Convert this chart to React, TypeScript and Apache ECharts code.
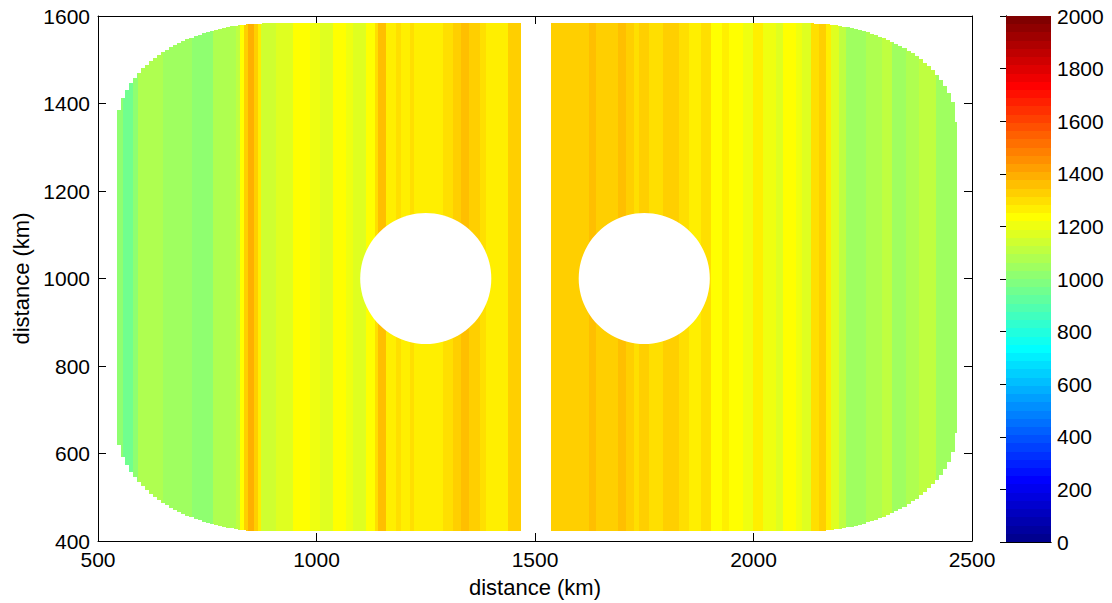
import React, { useEffect, useRef } from "react";
import * as echarts from "echarts";

// Axis ticks
const xTickValues = [500, 1000, 1500, 2000, 2500];
const yTickValues = [400, 600, 800, 1000, 1200, 1400, 1600];
const colorTickValues = [0, 200, 400, 600, 800, 1000, 1200, 1400, 1600, 1800, 2000];

// Left block: stripe start positions (km) and values, ends at leftBlockEnd
const leftStripeStarts = [
  543, 557, 580, 591, 649, 714, 763, 816, 824, 835,
  843, 858, 866, 874, 908, 946, 984, 1007, 1037, 1068,
  1083, 1114, 1133, 1140, 1160, 1182, 1194, 1213, 1224, 1289,
  1312, 1331, 1350, 1373, 1388, 1438,
];
const leftStripeValues = [
  1016, 953, 1016, 1078, 1047, 1016, 1078, 1109, 1234, 1328,
  1391, 1328, 1266, 1141, 1172, 1234, 1203, 1172, 1234, 1203,
  1172, 1234, 1297, 1359, 1266, 1297, 1266, 1297, 1266, 1297,
  1328, 1359, 1328, 1297, 1266, 1328,
];
const leftBlockEnd = 1467;

// Right block: stripe start positions (km) and values, ends at rightBlockEnd
const rightStripeStarts = [
  1537, 1624, 1640, 1689, 1708, 1727, 1739, 1762, 1792, 1830,
  1853, 1880, 1903, 1929, 1945, 1975, 1998, 2021, 2051, 2067,
  2097, 2112, 2131, 2150, 2166, 2177, 2196, 2211, 2257, 2295,
  2318, 2349, 2379, 2417,
];
const rightStripeValues = [
  1328, 1359, 1328, 1359, 1328, 1297, 1328, 1297, 1328, 1297,
  1266, 1297, 1234, 1266, 1234, 1203, 1266, 1203, 1172, 1234,
  1203, 1172, 1297, 1328, 1266, 1172, 1109, 1047, 1078, 1109,
  1047, 1078, 1109, 1047,
];
const rightBlockEnd = 2466;

// Circular holes: [centre x, centre y, radius] in km
const holes = [
  [1250, 1000, 150],
  [1750, 1000, 150],
];

// Domain outline (km)
const domainBottom = 422;
const domainTop = 1583;
const cornerRadiusX = 345;
const cornerRadiusY = 236;
const meshStep = 9.24;

const colorMin = 0;
const colorMax = 2000;
const colorLevels = Array.from({ length: 64 }, (_, i) => i);

// MATLAB-style jet colormap with 64 rows
function jetRow(i: number): [number, number, number] {
  const n = 16;
  const u = (k: number) => {
    if (k < 1 || k > 47) return 0;
    if (k <= n) return k / n;
    if (k <= 31) return 1;
    return (48 - k) / n;
  };
  const row = i + 1;
  const g = u(row - 8);
  const r = u(row - 24);
  const b = u(row + 8);
  return [r, g, b];
}
const jet = colorLevels.map((i) => {
  const [r, g, b] = jetRow(i);
  return `rgb(${Math.round(r * 255)},${Math.round(g * 255)},${Math.round(b * 255)})`;
});
function valueColor(v: number) {
  let k = Math.floor(((v - colorMin) / (colorMax - colorMin)) * 64);
  k = Math.max(0, Math.min(63, k));
  return jet[k];
}

function buildStripes(starts: number[], values: number[], end: number) {
  return starts.map((s, i) => [s, i + 1 < starts.length ? starts[i + 1] : end, values[i]]);
}
const leftStripes = buildStripes(leftStripeStarts, leftStripeValues, leftBlockEnd);
const rightStripes = buildStripes(rightStripeStarts, rightStripeValues, rightBlockEnd);

// vertical extent of a block column, with elliptical corners on one side
function columnExtent(xc: number, bx0: number, bx1: number, roundLeft: boolean) {
  const d = roundLeft ? xc - bx0 : bx1 - xc;
  if (d >= cornerRadiusX) return [domainBottom, domainTop];
  const t = (cornerRadiusX - d) / cornerRadiusX;
  const h = cornerRadiusY * Math.sqrt(Math.max(0, 1 - t * t));
  return [domainBottom + cornerRadiusY - h, domainTop - cornerRadiusY + h];
}

function makeStripeRenderer(bx0: number, bx1: number, roundLeft: boolean) {
  return (params: any, api: any) => {
    const x0 = api.value(0);
    const x1 = api.value(1);
    const fill = valueColor(api.value(2));
    const children: any[] = [];
    const nStart = Math.floor((x0 - bx0) / meshStep);
    for (let n = nStart; bx0 + n * meshStep < x1; n++) {
      const a = Math.max(x0, bx0 + n * meshStep);
      const b = Math.min(x1, bx0 + (n + 1) * meshStep, bx1);
      if (b <= a) continue;
      const xc = Math.min(bx1, bx0 + (n + 0.5) * meshStep);
      const [lo, hi] = columnExtent(xc, bx0, bx1, roundLeft);
      const p0 = api.coord([a, hi]);
      const p1 = api.coord([b, lo]);
      const px0 = Math.round(p0[0]);
      const px1 = Math.round(p1[0]);
      const py0 = Math.round(p0[1]);
      const py1 = Math.round(p1[1]);
      if (px1 <= px0) continue;
      children.push({
        type: "rect",
        shape: { x: px0, y: py0, width: px1 - px0, height: py1 - py0 },
        style: { fill },
      });
    }
    return { type: "group", children };
  };
}

const FONT = "'Liberation Sans', Arial, Helvetica, sans-serif";
const BLACK = "#000";
const plain = (v: number) => String(v);

export default function App() {
  const ref = useRef<HTMLDivElement>(null);

  useEffect(() => {
    if (!ref.current) return;
    const chart = echarts.init(ref.current, null, { renderer: "svg" });

    const lineStyle = { color: BLACK, width: 1 };
    const label = { fontSize: 21, color: BLACK, fontFamily: FONT };
    const nameStyle = { fontSize: 22, color: BLACK, fontFamily: FONT };

    chart.setOption({
      animation: false,
      backgroundColor: "#fff",
      textStyle: { fontFamily: FONT },
      grid: [
        { left: 98, top: 16, width: 874, height: 526 },
        { left: 1006, top: 16, width: 45, height: 526 },
      ],
      xAxis: [
        {
          gridIndex: 0, type: "value", position: "bottom",
          min: xTickValues[0], max: xTickValues[xTickValues.length - 1], interval: 500,
          axisLine: { show: true, lineStyle },
          axisTick: { show: true, inside: true, length: 8, lineStyle },
          axisLabel: { ...label, margin: 8, formatter: plain },
          splitLine: { show: false },
          name: "distance (km)", nameLocation: "middle", nameGap: 35,
          nameTextStyle: { ...nameStyle },
        },
        {
          gridIndex: 0, type: "value", position: "top",
          min: xTickValues[0], max: xTickValues[xTickValues.length - 1], interval: 500,
          axisLine: { show: true, lineStyle },
          axisTick: { show: true, inside: true, length: 8, lineStyle },
          axisLabel: { show: false },
          splitLine: { show: false },
        },
        {
          gridIndex: 1, type: "value", position: "bottom", min: 0, max: 1,
          axisLine: { show: true, lineStyle },
          axisTick: { show: false }, axisLabel: { show: false }, splitLine: { show: false },
        },
        {
          gridIndex: 1, type: "value", position: "top", min: 0, max: 1,
          axisLine: { show: true, lineStyle },
          axisTick: { show: false }, axisLabel: { show: false }, splitLine: { show: false },
        },
      ],
      yAxis: [
        {
          gridIndex: 0, type: "value", position: "left",
          min: yTickValues[0], max: yTickValues[yTickValues.length - 1], interval: 200,
          axisLine: { show: true, lineStyle },
          axisTick: { show: true, inside: true, length: 8, lineStyle },
          axisLabel: { ...label, margin: 8, formatter: plain },
          splitLine: { show: false },
          name: "distance (km)", nameLocation: "middle", nameGap: 64, nameRotate: 90,
          nameTextStyle: { ...nameStyle },
        },
        {
          gridIndex: 0, type: "value", position: "right",
          min: yTickValues[0], max: yTickValues[yTickValues.length - 1], interval: 200,
          axisLine: { show: true, lineStyle },
          axisTick: { show: true, inside: true, length: 8, lineStyle },
          axisLabel: { show: false },
          splitLine: { show: false },
        },
        {
          gridIndex: 1, type: "value", position: "right",
          min: colorTickValues[0], max: colorTickValues[colorTickValues.length - 1], interval: 200,
          axisLine: { show: true, lineStyle },
          axisTick: { show: true, inside: true, length: 6, lineStyle },
          axisLabel: { ...label, margin: 6, formatter: plain },
          splitLine: { show: false },
        },
        {
          gridIndex: 1, type: "value", position: "left",
          min: colorTickValues[0], max: colorTickValues[colorTickValues.length - 1], interval: 200,
          axisLine: { show: true, lineStyle },
          axisTick: { show: true, inside: true, length: 6, lineStyle },
          axisLabel: { show: false },
          splitLine: { show: false },
        },
      ],
      series: [
        {
          type: "custom", name: "left block", xAxisIndex: 0, yAxisIndex: 0,
          clip: true, silent: true,
          renderItem: makeStripeRenderer(leftStripeStarts[0], leftBlockEnd, true),
          data: leftStripes,
          z: 1,
        },
        {
          type: "custom", name: "right block", xAxisIndex: 0, yAxisIndex: 0,
          clip: true, silent: true,
          renderItem: makeStripeRenderer(rightStripeStarts[0], rightBlockEnd, false),
          data: rightStripes,
          z: 1,
        },
        {
          type: "custom", name: "holes", xAxisIndex: 0, yAxisIndex: 0,
          clip: true, silent: true,
          renderItem: (params: any, api: any) => {
            const c = api.coord([api.value(0), api.value(1)]);
            const r = api.size([api.value(2), 0])[0];
            return { type: "circle", shape: { cx: c[0], cy: c[1], r }, style: { fill: "#fff" } };
          },
          data: holes,
          z: 2,
        },
        {
          type: "custom", name: "colorbar", xAxisIndex: 2, yAxisIndex: 2,
          silent: true,
          renderItem: (params: any, api: any) => {
            const k = api.value(0);
            const step = (colorMax - colorMin) / colorLevels.length;
            const p0 = api.coord([0, colorMin + (k + 1) * step]);
            const p1 = api.coord([1, colorMin + k * step]);
            const y0 = Math.round(p0[1]);
            const y1 = Math.round(p1[1]);
            return {
              type: "rect",
              shape: { x: p0[0], y: y0, width: p1[0] - p0[0], height: y1 - y0 },
              style: { fill: jet[k] },
            };
          },
          data: colorLevels.map((k) => [k]),
          z: 1,
        },
      ],
    });

    return () => chart.dispose();
  }, []);

  return (
    <div
      ref={ref}
      style={{ position: "fixed", left: 0, top: 0, width: 1112, height: 603, background: "#fff" }}
    />
  );
}
